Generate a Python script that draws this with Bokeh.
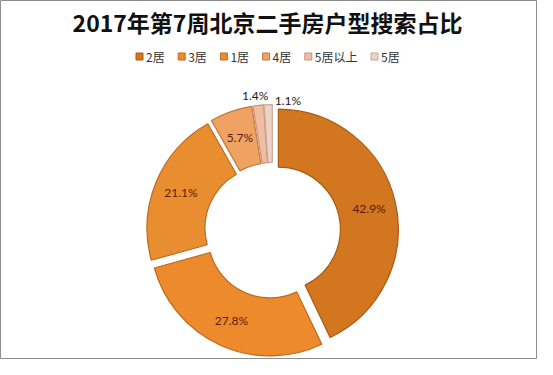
import numpy as np
from bokeh.plotting import figure
from bokeh.models import ColumnDataSource, Range1d
from bokeh.core.properties import value
from bokeh.embed import file_html
from bokeh.resources import INLINE

# ---- data ----
title_text = "2017年第7周北京二手房户型搜索占比"
categories = ["2居", "3居", "1居", "4居", "5居以上", "5居"]
shares = [42.9, 27.8, 21.1, 5.7, 1.4, 1.1]
colors = ["#D2761F", "#EC8A2C", "#E98E30", "#EFA262", "#F1BD9F", "#EED2C6"]
edge_colors = ["#A85A12", "#BE6A1C", "#BC6C20", "#C27A44", "#C8937A", "#C8A89C"]

# ---- layout ----
W, H = 537, 359
def X(rx):
    return rx - 8
def Y(ry):
    return H - (ry - 8)

cx, cy = X(280), Y(238)
r_out, r_in, explode = 120, 62, 6

p = figure(width=W, height=H, x_range=Range1d(0, W), y_range=Range1d(0, H),
           output_backend="svg", toolbar_location=None, min_border=0,
           x_axis_location=None, y_axis_location=None)
p.grid.visible = False
p.outline_line_color = "#8C8C8C"
p.outline_line_width = 1
p.background_fill_color = "white"
p.border_fill_color = "white"

vals = np.array(shares, dtype=float)
frac = vals / vals.sum()
cum_end = np.cumsum(frac) * 2 * np.pi       # clockwise from top
cum_start = cum_end - frac * 2 * np.pi
mid = (cum_start + cum_end) / 2

xs = cx + explode * np.sin(mid)
ys = cy + explode * np.cos(mid)
start_angle = np.pi / 2 - cum_end
end_angle = np.pi / 2 - cum_start

src = ColumnDataSource(dict(x=xs, y=ys, start=start_angle, end=end_angle,
                            color=colors, edge=edge_colors, cat=categories))
p.annular_wedge(x="x", y="y", inner_radius=r_in, outer_radius=r_out,
                start_angle="start", end_angle="end", direction="anticlock",
                fill_color="color", line_color="edge", line_width=1.2, source=src)

# ---- data labels ----
lab_text = [f"{v}%" for v in shares]
lab_x, lab_y, lab_col = [], [], []
out_dx = [0, 0, 0, 0, -2, 20]
out_dy = [0, 0, 0, 0, 1, -5]
for i, v in enumerate(shares):
    if v >= 3:
        rr = (r_in + r_out) / 2 + 2 + explode
        lab_col.append("#5A1A0C")
    else:
        rr = r_out + 15
        lab_col.append("#1A1A1A")
    lab_x.append(cx + rr * np.sin(mid[i]) + out_dx[i])
    lab_y.append(cy + rr * np.cos(mid[i]) + out_dy[i])
p.text(x=lab_x, y=lab_y, text=lab_text, text_color=lab_col,
       text_font=value("Lato"), text_font_size="12px",
       text_align="center", text_baseline="middle")

# ---- title ----
p.text(x=[X(275)], y=[Y(29)], text=[title_text], text_font=value("Noto Sans CJK SC"),
       text_font_style="bold", text_font_size="23px", text_color="#111111",
       text_align="center", text_baseline="middle")

# ---- legend (manual) ----
fs = 12
def tw(s):
    return sum(fs * (0.6 if ord(c) < 128 else 1.0) for c in s)
sq = 7
leg_y = Y(64)
x0 = X(143.5)
sq_x, txt_x = [], []
for c in categories:
    sq_x.append(x0 + sq / 2)
    txt_x.append(x0 + sq + 3)
    x0 += sq + 3 + tw(c) + 13
p.rect(x=sq_x, y=[leg_y] * len(categories), width=sq, height=sq,
       fill_color=colors, line_color=edge_colors, line_width=1)
p.text(x=txt_x, y=[leg_y] * len(categories), text=categories,
       text_font=value("Noto Sans CJK SC"), text_font_size=f"{fs}px",
       text_color="#333333", text_align="left", text_baseline="middle")

open("out.html", "w").write(file_html(p, INLINE))
